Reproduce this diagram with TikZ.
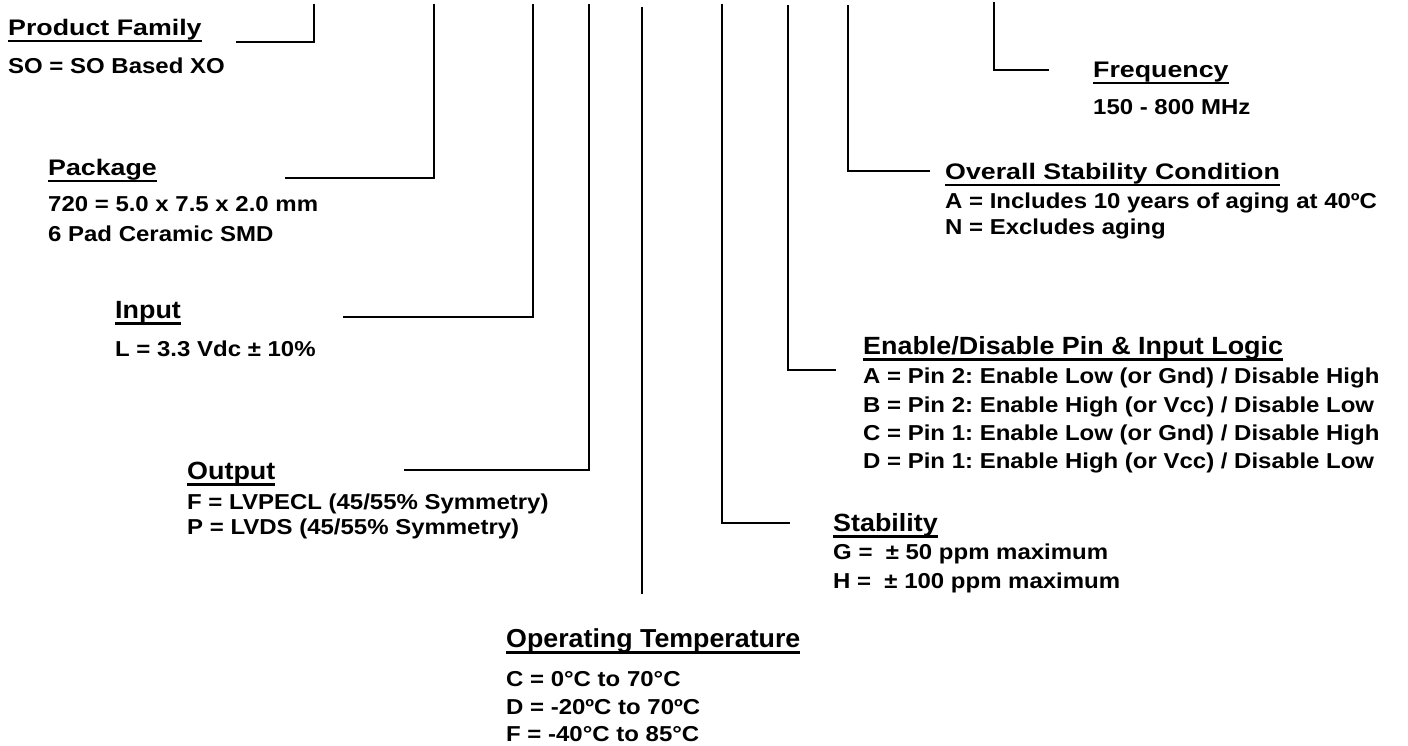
\documentclass[tikz,border=0pt]{standalone}
\usepackage{fontspec}
\setmainfont{Liberation Sans}
\newfontfamily\bodyf{Liberation Sans Bold}[FakeStretch=1.11]
\newfontfamily\ttlAf{Liberation Sans Bold}[FakeStretch=1.19]
\newfontfamily\ttlBf{Liberation Sans Bold}[FakeStretch=1.08]
\newfontfamily\ttlCf{Liberation Sans Bold}[FakeStretch=1.03]
\newcommand\ttlul[1]{\setbox0\hbox{#1}\rlap{\vrule width\wd0 height -4pt depth 6.5pt}\box0}
\frenchspacing
\tikzset{
  ttlA/.style={anchor=base west, inner sep=0pt, font=\ttlAf\fontsize{22.5}{26}\selectfont},
  ttlB/.style={anchor=base west, inner sep=0pt, font=\ttlBf\fontsize{24.9}{28}\selectfont},
  ttlC/.style={anchor=base west, inner sep=0pt, font=\ttlCf\fontsize{26}{29}\selectfont},
  txt/.style={anchor=base west, inner sep=0pt, font=\bodyf\fontsize{21.6}{25}\selectfont},
  conn/.style={line width=2pt, line join=miter}
}
\begin{document}
\begin{tikzpicture}[x=1pt, y=-1pt]
\useasboundingbox (0,0) rectangle (1408,746);
% Product family
\node[ttlA] (pf) at (8,36) {\ttlul{Product Family}};
\node[txt] (pf1) at (8,74) {SO = SO Based XO};
% Package
\node[ttlA] (pk) at (48,176) {\ttlul{Package}};
\node[txt] (pk1) at (48,212) {720 = 5.0 x 7.5 x 2.0 mm};
\node[txt] (pk2) at (48,241) {6 Pad Ceramic SMD};
% Input
\node[ttlB] (in) at (115,318) {\ttlul{Input}};
\node[txt] (in1) at (115,356) {L = 3.3 Vdc ± 10\%};
% Output
\node[ttlB] (out) at (187,479) {\ttlul{Output}};
\node[txt] (out1) at (187,509) {F = LVPECL (45/55\% Symmetry)};
\node[txt] (out2) at (187,534) {P = LVDS (45/55\% Symmetry)};
% Operating temperature
\node[ttlC] (op) at (506,647) {\ttlul{Operating Temperature}};
\node[txt] (op1) at (506,686) {C = 0°C to 70°C};
\node[txt] (op2) at (506,714) {D = -20ºC to 70ºC};
\node[txt] (op3) at (506,741) {F = -40°C to 85°C};
% Stability
\node[ttlB] (st) at (833,531) {\ttlul{Stability}};
\node[txt] (st1) at (833,559) {G = \ ± 50 ppm maximum};
\node[txt] (st2) at (833,588) {H = \ ± 100 ppm maximum};
% Enable / Disable
\node[ttlB] (en) at (863,354) {\ttlul{Enable/Disable Pin \& Input Logic}};
\node[txt] (en1) at (863,383) {A = Pin 2: Enable Low (or Gnd) / Disable High};
\node[txt] (en2) at (863,412) {B = Pin 2: Enable High (or Vcc) / Disable Low};
\node[txt] (en3) at (863,440) {C = Pin 1: Enable Low (or Gnd) / Disable High};
\node[txt] (en4) at (863,468) {D = Pin 1: Enable High (or Vcc) / Disable Low};
% Overall stability
\node[ttlA] (ov) at (945,180) {\ttlul{Overall Stability Condition}};
\node[txt] (ov1) at (945,209) {A = Includes 10 years of aging at 40ºC};
\node[txt] (ov2) at (945,235) {N = Excludes aging};
% Frequency
\node[ttlA] (fr) at (1093,78) {\ttlul{Frequency}};
\node[txt] (fr1) at (1093,115) {150 - 800 MHz};
% connector end points
\coordinate (pfT) at (314,4);   \coordinate (pfE) at (236,42);
\coordinate (pkT) at (434,4);   \coordinate (pkE) at (285,178);
\coordinate (inT) at (533,4);   \coordinate (inE) at (343,317);
\coordinate (outT) at (589,4);  \coordinate (outE) at (404,470);
\coordinate (opT) at (642,7);   \coordinate (opE) at (642,594);
\coordinate (stT) at (722,4);   \coordinate (stE) at (790,523);
\coordinate (enT) at (788,5);   \coordinate (enE) at (836,370);
\coordinate (ovT) at (848,5);   \coordinate (ovE) at (930,171);
\coordinate (frT) at (994,2);   \coordinate (frE) at (1049,70);
\draw[conn] (pfT) |- (pfE);
\draw[conn] (pkT) |- (pkE);
\draw[conn] (inT) |- (inE);
\draw[conn] (outT) |- (outE);
\draw[conn] (opT) -- (opE);
\draw[conn] (stT) |- (stE);
\draw[conn] (enT) |- (enE);
\draw[conn] (ovT) |- (ovE);
\draw[conn] (frT) |- (frE);
\end{tikzpicture}
\end{document}
